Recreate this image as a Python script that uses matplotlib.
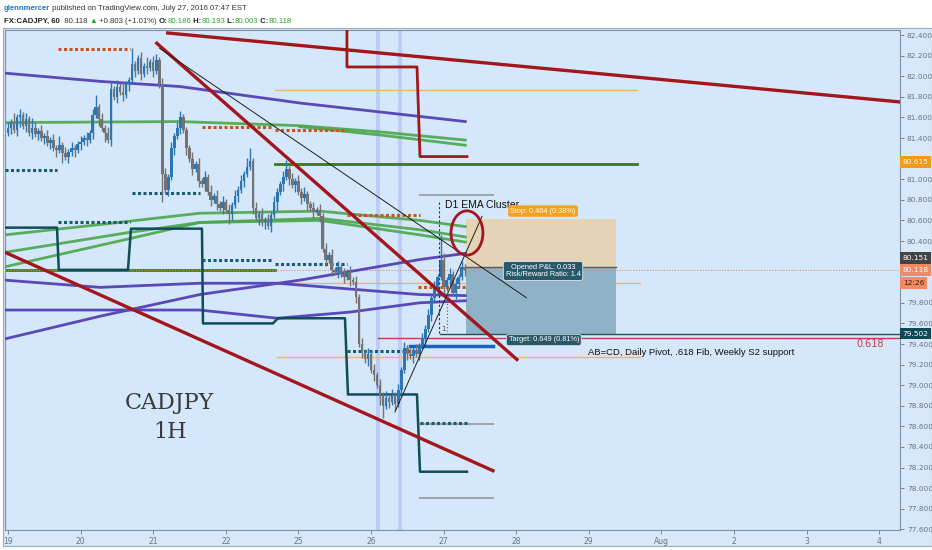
import matplotlib
matplotlib.use('Agg')
import matplotlib.pyplot as plt
from matplotlib.patches import Rectangle, Ellipse
from matplotlib import font_manager
import matplotlib.transforms as mtrans

# ---- data ----------------------------------------------------------------
# hourly closes, CADJPY 60, from Jul 19 00:00 (index / 24 = trading day)
closes = [
    81.50, 81.55, 81.48, 81.60, 81.62, 81.52, 81.58, 81.45, 81.50, 81.44,
    81.47, 81.40, 81.42, 81.35, 81.38, 81.30, 81.28, 81.33, 81.25, 81.22,
    81.26, 81.30, 81.28, 81.34, 81.36, 81.40, 81.38, 81.45, 81.62, 81.70,
    81.58, 81.50, 81.45, 81.38, 81.88, 81.80, 81.90, 81.85, 81.82, 81.92,
    81.96, 82.12, 82.05, 82.18, 82.02, 82.10, 82.08, 82.14, 82.05, 82.16,
    81.92, 81.05, 80.90, 81.02, 81.30, 81.42, 81.50, 81.60, 81.48, 81.30,
    81.20, 81.10, 81.15, 80.98, 80.95, 81.02, 80.88, 80.80, 80.84, 80.76,
    80.72, 80.78, 80.70, 80.66, 80.75, 80.84, 80.90, 80.98, 81.05, 81.12,
    81.18, 80.72, 80.62, 80.66, 80.58, 80.60, 80.55, 80.65, 80.78, 80.88,
    80.95, 81.02, 81.10, 81.00, 80.94, 80.98, 80.88, 80.82, 80.86, 80.76,
    80.72, 80.68, 80.70, 80.64, 80.32, 80.22, 80.26, 80.12, 80.10, 80.15,
    80.08, 80.05, 80.10, 80.02, 80.00, 79.86, 79.40, 79.32, 79.25, 79.30,
    79.15, 79.10, 79.00, 78.90, 78.80, 78.88, 78.84, 78.90, 78.82, 78.95,
    79.15, 79.36, 79.30, 79.28, 79.34, 79.30, 79.38, 79.45, 79.55, 79.68,
    79.85, 79.95, 80.05, 80.22, 79.95, 80.02, 80.08, 79.90, 79.98, 80.05,
    80.15, 80.118,
]
first_open = 81.45
# wick lengths, one digit per bar, in units of 0.03
wick_up = ("2131212132 1212121312 1211212124 1212212131 1511213122 "
           "1221212211 1212121212 1212121213 4121212121 1231212121 "
           "1212121212 1212121212 1212121212 1212121212 1218212121 21").replace(' ', '')
wick_dn = ("1212312121 2121212131 2121212121 2131212121 2121212121 "
           "1912121212 1212121212 1213212121 1212121213 1212121212 "
           "1212121212 1212121212 1213412121 2121212121 2121212121 12").replace(' ', '')

day_labels = ['19', '20', '21', '22', '25', '26', '27', '28', '29', 'Aug', '2', '3', '4']

# moving averages (day, price)
ema_purple_1_x = [-0.04, 1.27, 2.37, 4.02, 5.67, 6.30]
ema_purple_1_y = [82.03, 81.95, 81.90, 81.74, 81.61, 81.56]
ema_green_1_x = [-0.04, 2.37, 4.02, 5.12, 6.30]
ema_green_1_y = [81.55, 81.56, 81.52, 81.46, 81.38]
ema_green_2_x = [4.02, 5.12, 6.30]
ema_green_2_y = [81.51, 81.43, 81.33]
ema_purple_2_x = [-0.04, 1.27, 2.64, 3.71, 5.67, 6.30]
ema_purple_2_y = [80.02, 79.95, 79.99, 79.99, 79.88, 79.87]
ema_purple_3_x = [-0.04, 1.27, 2.64, 4.02, 5.67, 6.30]
ema_purple_3_y = [79.45, 79.67, 79.88, 80.02, 80.22, 80.28]
ema_purple_4_x = [-0.04, 2.64, 3.71, 4.71, 5.67, 6.30]
ema_purple_4_y = [79.73, 79.73, 79.65, 79.71, 79.80, 79.82]
ema_green_3_x = [-0.04, 1.27, 2.64, 4.30, 5.67, 6.30]
ema_green_3_y = [80.46, 80.56, 80.67, 80.69, 80.60, 80.54]
ema_green_4_x = [-0.04, 1.64, 2.64, 4.30, 5.67, 6.30]
ema_green_4_y = [80.29, 80.48, 80.58, 80.62, 80.51, 80.44]
ema_green_5_x = [-0.04, 1.72, 2.64, 4.30, 5.67, 6.30]
ema_green_5_y = [80.15, 80.43, 80.58, 80.60, 80.46, 80.39]

# pivot step lines
pivot_x = [-0.04, 0.675, 0.70, 1.653, 1.694, 2.672, 2.686, 3.650, 3.719,
           4.642, 4.683, 5.634, 5.675, 6.322]
pivot_y = [80.53, 80.53, 80.12, 80.12, 80.52, 80.52, 79.60, 79.60, 79.65,
           79.65, 78.91, 78.91, 78.16, 78.16]
weekly_x = [4.669, 4.669, 5.634, 5.675, 6.322]
weekly_y = [82.60, 82.09, 82.09, 81.22, 81.22]

# trend lines (x0, y0, x1, y1)
red_trends = [(2.05, 82.32, 7.01, 79.25), (2.20, 82.42, 12.29, 81.75),
              (-0.04, 80.29, 6.68, 78.17)]
thin_trends = [(2.09, 82.27, 7.14, 79.85), (5.33, 78.74, 6.53, 80.64)]

# dotted levels
orange_dot_x0 = [0.69, 2.67, 3.68, 4.67, 5.65]
orange_dot_x1 = [1.68, 3.65, 4.67, 5.68, 6.32]
orange_dot_y = [82.26, 81.51, 81.48, 80.65, 79.95]
teal_dot_x0 = [-0.04, 0.69, 1.71, 2.67, 3.68, 4.67, 5.68]
teal_dot_x1 = [0.68, 1.68, 2.65, 3.65, 4.67, 5.68, 6.32]
teal_dot_y = [81.09, 80.58, 80.87, 80.22, 80.18, 79.33, 78.63]

# solid levels
green_lvl_x0 = [3.68, -0.04]
green_lvl_x1 = [8.66, 3.68]
green_lvl_y = [81.15, 80.12]
orange_lvl_x0 = [3.68, 3.70, 3.70]
orange_lvl_x1 = [8.66, 8.70, 8.70]
orange_lvl_y = [81.87, 79.99, 79.27]
gray_lvl_y = [80.85, 78.62, 77.90]
gray_lvl_x = [5.68, 6.68]
blue_lvl = (5.54, 6.68, 79.38)
fib_618 = (5.10, 12.29, 79.458)

# short position
pos_x0, pos_x1 = 6.31, 8.375
stop_price, entry_price, target_price = 80.615, 80.151, 79.502
last_price = 80.118
session_bands = [5.096, 5.399]

# ---- figure --------------------------------------------------------------
W, H = 932, 550
fig = plt.figure(figsize=(W / 100, H / 100), dpi=100, facecolor='white')
fig.add_artist(Rectangle((3 / W, 1 - 546 / H), 929 / W, 518 / H, transform=fig.transFigure,
                         facecolor='#d6e8fa', edgecolor='#9aaabb', lw=0.8, zorder=-1))
ax = fig.add_axes([5 / W, 1 - 530 / H, 895 / W, 500 / H])
ax.set_facecolor('#d5e7fa')
ax.set_xlim(-0.041, 12.287)
ax.set_ylim(77.594, 82.449)

for b in session_bands:
    ax.axvspan(b - 0.027, b + 0.027, color='#b5c7f3', alpha=0.8, lw=0, zorder=0.5)

# levels
for x0, x1, y in zip(orange_lvl_x0, orange_lvl_x1, orange_lvl_y):
    ax.plot([x0, x1], [y, y], color='#f6b26b', lw=1, zorder=1)
for y in gray_lvl_y:
    ax.plot(gray_lvl_x, [y, y], color='#9ea7ad', lw=1.5, zorder=1)
for x0, x1, y in zip(green_lvl_x0, green_lvl_x1, green_lvl_y):
    ax.plot([x0, x1], [y, y], color='#3c7a18', lw=2, zorder=2)
ax.plot([blue_lvl[0], blue_lvl[1]], [blue_lvl[2]] * 2, color='#1f5fc0', lw=2.5, zorder=3)
ax.plot([fib_618[0], fib_618[1]], [fib_618[2]] * 2, color='#c0404f', lw=1, zorder=2)
ax.plot([5.95, 12.29], [target_price] * 2, color='#23525a', lw=1, zorder=2)
ax.axhline(last_price, color='#ef8a62', lw=0.8, ls=(0, (1, 1.5)), zorder=2)

# position box
ax.add_patch(Rectangle((pos_x0, entry_price), pos_x1 - pos_x0, stop_price - entry_price,
                       facecolor='#e4d3b6', edgecolor='none', zorder=1.5))
ax.add_patch(Rectangle((pos_x0, target_price), pos_x1 - pos_x0, entry_price - target_price,
                       facecolor='#90b2c6', edgecolor='none', zorder=1.5))
ax.plot([pos_x0, pos_x1], [entry_price] * 2, color='#4d5f66', lw=1, zorder=2)

# moving averages
for xs, ys in [(ema_green_1_x, ema_green_1_y), (ema_green_2_x, ema_green_2_y),
               (ema_green_3_x, ema_green_3_y), (ema_green_4_x, ema_green_4_y),
               (ema_green_5_x, ema_green_5_y)]:
    ax.plot(xs, ys, color='#4ba74b', lw=2, alpha=0.9, zorder=3)
for xs, ys in [(ema_purple_1_x, ema_purple_1_y), (ema_purple_2_x, ema_purple_2_y),
               (ema_purple_3_x, ema_purple_3_y), (ema_purple_4_x, ema_purple_4_y)]:
    ax.plot(xs, ys, color='#5a48b8', lw=2, zorder=3)

# pivots
ax.plot(pivot_x, pivot_y, color='#0f4d5a', lw=1.8, zorder=3)
ax.plot(weekly_x, weekly_y, color='#a3161b', lw=2, zorder=3)
for x0, x1, y in zip(orange_dot_x0, orange_dot_x1, orange_dot_y):
    ax.plot([x0, x1], [y, y], color='#c9541f', lw=2.2, ls=(0, (1, 0.8)), zorder=3)
for x0, x1, y in zip(teal_dot_x0, teal_dot_x1, teal_dot_y):
    ax.plot([x0, x1], [y, y], color='#1b5b70', lw=2.2, ls=(0, (1, 0.8)), zorder=3)

# candles
opens = [first_open] + closes[:-1]
for i, (o, c, u, d) in enumerate(zip(opens, closes, wick_up, wick_dn)):
    x = i / 24
    col = '#2c76b4' if c >= o else '#737373'
    ax.vlines(x, min(o, c) - int(d) * 0.03, max(o, c) + int(u) * 0.03, color=col, lw=1, zorder=4)
    ax.bar(x, max(abs(c - o), 0.01), bottom=min(o, c), width=0.036, color=col, lw=0, zorder=4)

# trend lines
for x0, y0, x1, y1 in red_trends:
    ax.plot([x0, x1], [y0, y1], color='#a3161b', lw=2.4, zorder=5)
for x0, y0, x1, y1 in thin_trends:
    ax.plot([x0, x1], [y0, y1], color='#1e1e1e', lw=0.7, zorder=5)
ax.plot([5.937, 5.937], [80.78, target_price], color='#333333', lw=0.8, ls=(0, (2, 2)), zorder=5)
ax.plot([6.047, 6.047], [80.02, target_price], color='#c0304a', lw=0.8, ls=(0, (1, 2)), zorder=5)
ax.add_patch(Ellipse((6.322, 80.478), 0.44, 0.43, fill=False, edgecolor='#a3161b', lw=2, zorder=6))

# annotations
ax.text(6.02, 80.75, 'D1 EMA Cluster', fontsize=7.5, color='#111111', va='center', ha='left',
        family='Liberation Sans', zorder=7)
box_kw = dict(fontsize=5.3, color='white', ha='center', va='center', family='Liberation Sans', zorder=7)
ax.text(7.37, 80.691, 'Stop: 0.464 (0.38%)',
        bbox=dict(boxstyle='round,pad=0.3', fc='#f5a11c', ec='none'), **box_kw)
ax.text(7.37, 80.109, 'Opened P&L: 0.033\nRisk/Reward Ratio: 1.4', linespacing=1.1,
        bbox=dict(boxstyle='round,pad=0.3', fc='#28596a', ec='#dfe8ec', lw=0.6), **box_kw)
ax.text(7.38, 79.439, 'Target: 0.649 (0.81%)',
        bbox=dict(boxstyle='round,pad=0.3', fc='#28596a', ec='#dfe8ec', lw=0.6), **box_kw)
ax.text(7.99, 79.322, 'AB=CD, Daily Pivot, .618 Fib, Weekly S2 support', fontsize=6.8,
        color='#111111', va='center', ha='left', family='Liberation Sans', zorder=7)
ax.text(6.0, 79.52, '1', fontsize=5, color='#555555', va='bottom', ha='center', zorder=7)
ax.text(11.87, 79.40, '0.618', fontsize=7, color='#c0404f', va='center', ha='center', zorder=7)
ax.text(2.23, 78.827, 'CADJPY', fontsize=16, color='#3a3a3a', ha='center', va='center',
        family='DejaVu Serif', zorder=7)
ax.text(2.23, 78.546, '1H', fontsize=16, color='#3a3a3a', ha='center', va='center',
        family='DejaVu Serif', zorder=7)

# axes styling
for s in ax.spines.values():
    s.set_color('#7d8fa3')
    s.set_linewidth(0.8)
ax.yaxis.tick_right()
yt = [77.6 + 0.2 * k for k in range(25)]
hidden = ['81.200', '80.200', '80.000']  # covered by the price tags
ax.set_yticks(yt)
ax.set_yticklabels(['' if f'{v:.3f}' in hidden else f'{v:.3f}' for v in yt])
ax.set_xticks(range(len(day_labels)))
ax.set_xticklabels(day_labels)
ax.tick_params(axis='y', length=3, width=0.6, pad=2, labelsize=5.3, colors='#6a7480')
ax.tick_params(axis='x', length=3, width=0.6, pad=2, labelsize=5.5, colors='#6a7480')

# price tags on the right axis
tr = mtrans.blended_transform_factory(ax.transAxes, ax.transData)
tag_kw = dict(transform=tr, fontsize=5.3, ha='left', va='center', clip_on=False, zorder=8)
for y, txt, fc, tc in [(81.167, '80.615', '#f29a12', 'white'),
                       (80.235, '80.151', '#444444', 'white'),
                       (80.118, '80.118', '#ef8a62', 'white'),
                       (79.992, '12:26', '#ef8a62', '#3a2010'),
                       (79.502, '79.502', '#0e4a55', 'white')]:
    ax.text(1.003, y, txt, color=tc, bbox=dict(boxstyle='square,pad=0.35', fc=fc, ec='none'), **tag_kw)

# header
names = {f.name for f in font_manager.fontManager.ttflist}
head_font = 'Liberation Sans Narrow' if 'Liberation Sans Narrow' in names else 'Liberation Sans'
head_size = 6.4 if head_font == 'Liberation Sans Narrow' else 5.6


def header_line(parts, x, y):
    prev = fig.text(x / W, 1 - y / H, parts[0][0], color=parts[0][1], fontweight=parts[0][2],
                    fontsize=head_size, family=[head_font, 'DejaVu Sans'], va='bottom', ha='left')
    for txt, col, wt in parts[1:]:
        prev = ax.annotate(txt, xy=(1, 0), xycoords=prev, va='bottom', ha='left', color=col,
                           fontweight=wt, fontsize=head_size, family=[head_font, 'DejaVu Sans'],
                           annotation_clip=False)


green = '#2aa52a'
header_line([('glennmercer', '#1f77c8', 'bold'),
             (' published on TradingView.com, July 27, 2016 07:47 EST', '#333333', 'normal')], 4, 12)
header_line([('FX:CADJPY, 60', '#222222', 'bold'), ('  80.118 ', '#333333', 'normal'),
             ('▲', green, 'normal'), (' +0.803 (+1.01%) ', '#333333', 'normal'),
             ('O:', '#222222', 'bold'), ('80.186', green, 'normal'),
             (' H:', '#222222', 'bold'), ('80.193', green, 'normal'),
             (' L:', '#222222', 'bold'), ('80.003', green, 'normal'),
             (' C:', '#222222', 'bold'), ('80.118', green, 'normal')], 4, 25)

fig.savefig('out.png', dpi=100, facecolor='white')
